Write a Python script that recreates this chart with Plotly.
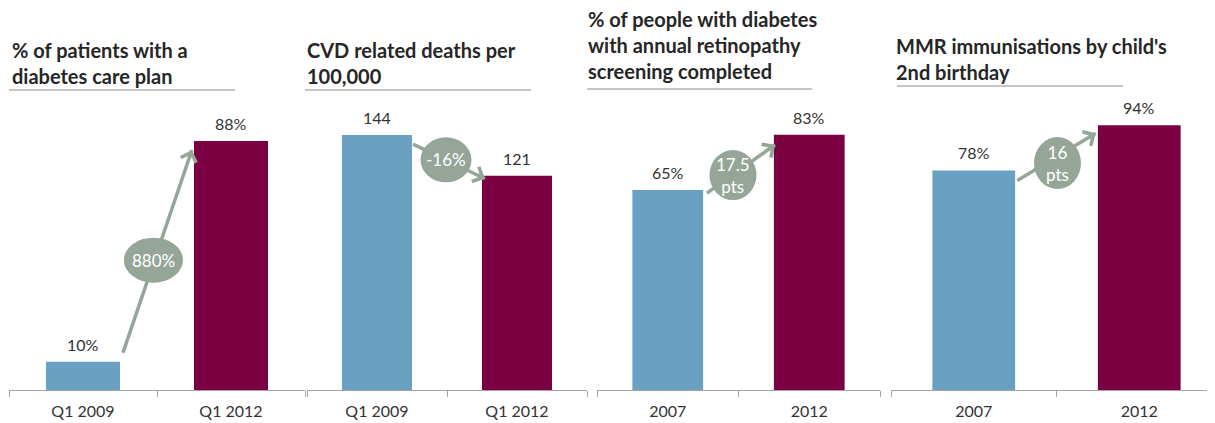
import plotly.graph_objects as go
import math

# ---- data ----
titles = [
    "% of patients with a<br>diabetes care plan",
    "CVD related deaths per<br>100,000",
    "% of people with diabetes<br>with annual retinopathy<br>screening completed",
    "MMR immunisations by child's<br>2nd birthday",
]
categories = [
    ["Q1 2009", "Q1 2012"],
    ["Q1 2009", "Q1 2012"],
    ["2007", "2012"],
    ["2007", "2012"],
]
values = [
    [10, 88],
    [144, 121],
    [65, 83],
    [78, 94],
]
value_labels = [
    ["10%", "88%"],
    ["144", "121"],
    ["65%", "83%"],
    ["78%", "94%"],
]
change_labels = ["880%", "-16%", "17.5<br>pts", "16<br>pts"]

# ---- layout / style (positions in reference-window pixels) ----
OFF = 8                      # page body margin
FIG_W, FIG_H = 1222 - OFF, 423 - OFF
AXIS_Y, TOP_Y = 390, 100     # plot area bottom/top in window pixels
M_T = TOP_Y - OFF
M_B = FIG_H - (AXIS_Y - OFF)
PLOT_H = AXIS_Y - TOP_Y
domains_px = [(9, 305), (307, 587), (597, 880), (891, 1222)]
y_max = [102.5, 163.8, 94.3, 103.0]
title_pos = [(10, 36), (305, 36), (586, 5), (894, 32)]
underline = [((9, 235), 90), ((305, 531), 90), ((587, 812), 89), ((897, 1123), 86)]

arrow_start_x = [0.27, 0.257, 0.277, 0.263]
arrow_start_dy = [9, -9, -3, -10]      # px relative to first bar top
arrow_end_x = [0.736, 0.771, 0.758, 0.737]
arrow_end_dy = [-9, -3, -10, -8]       # px relative to second bar top
ell_center = [(0.476, 45.9), (0.493, 130), (0.461, 69.9), (0.506, 80.6)]
ell_size = [(59, 45), (51, 45), (47, 50), (47, 52)]

BLUE = "#6AA0C1"
MAROON = "#7B0042"
GREEN = "#95A699"
TEXT = "#333333"
AXIS = "#A6A6A6"
FONT = "Lato"


def px2paper(x):
    return (x - OFF) / FIG_W


def py2paper(y):
    return (AXIS_Y - y) / PLOT_H


fig = go.Figure()
shapes = []
annotations = []

for i in range(4):
    ax_sfx = "" if i == 0 else str(i + 1)
    xref, yref = "x" + ax_sfx, "y" + ax_sfx
    x0p, x1p = domains_px[i]
    x1p = min(x1p, OFF + FIG_W)
    catw = (x1p - x0p) / 2.0
    scale = PLOT_H / y_max[i]

    def to_px(x, y):
        return (x0p + (x + 0.5) * catw, AXIS_Y - y * scale)

    fig.add_trace(go.Bar(
        x=categories[i], y=values[i],
        marker=dict(color=[BLUE, MAROON], line=dict(width=0)),
        width=0.5, xaxis=xref, yaxis=yref, showlegend=False, hoverinfo="skip",
    ))

    for j in range(2):
        annotations.append(dict(
            x=j, y=values[i][j], xref=xref, yref=yref, text=value_labels[i][j],
            showarrow=False, yanchor="bottom", yshift=6,
            font=dict(family=FONT, size=16, color=TEXT),
        ))

    # arrow
    sx, sy = arrow_start_x[i], values[i][0] + arrow_start_dy[i] / scale
    ex, ey = arrow_end_x[i], values[i][1] + arrow_end_dy[i] / scale
    shapes.append(dict(type="line", xref=xref, yref=yref, x0=sx, y0=sy, x1=ex, y1=ey,
                       line=dict(color=GREEN, width=3.5), layer="above"))
    spx, spy = to_px(sx, sy)
    epx, epy = to_px(ex, ey)
    L = math.hypot(epx - spx, epy - spy)
    ux, uy = (epx - spx) / L, (epy - spy) / L
    annotations.append(dict(
        x=ex, y=ey, xref=xref, yref=yref, text="", showarrow=True,
        ax=-ux * 10, ay=-uy * 10, arrowhead=4, arrowsize=0.9, arrowwidth=3.5,
        arrowcolor=GREEN,
    ))

    # ellipse with change label
    cx, cy = ell_center[i]
    ew, eh = ell_size[i]
    shapes.append(dict(type="circle", xref=xref, yref=yref,
                       xsizemode="pixel", ysizemode="pixel", xanchor=cx, yanchor=cy,
                       x0=-ew / 2, x1=ew / 2, y0=-eh / 2, y1=eh / 2,
                       fillcolor=GREEN, line=dict(width=0), layer="above"))
    annotations.append(dict(
        x=cx, y=cy, xref=xref, yref=yref, text=change_labels[i], showarrow=False,
        font=dict(family=FONT, size=17, color="white"),
    ))

    # title
    tx, ty = title_pos[i]
    annotations.append(dict(
        x=px2paper(tx), y=py2paper(ty), xref="paper", yref="paper",
        xanchor="left", yanchor="top",
        text="<b>" + titles[i] + "</b>", align="left", showarrow=False,
        font=dict(family=FONT, size=20, color="#262626"),
    ))
    (ux0, ux1), uy_ = underline[i]
    shapes.append(dict(type="line", xref="paper", yref="paper",
                       x0=px2paper(ux0), x1=px2paper(ux1),
                       y0=py2paper(uy_), y1=py2paper(uy_),
                       line=dict(color="#8C8C8C", width=1.2)))

    fig.layout["xaxis" + ax_sfx] = dict(
        domain=[px2paper(x0p), min(1.0, px2paper(x1p))], anchor=yref, type="category",
        range=[-0.5, 1.5],
        showline=True, linecolor=AXIS, linewidth=1, ticks="outside", tickson="boundaries",
        ticklen=6, tickcolor=AXIS, showgrid=False, zeroline=False, ticklabelstandoff=7,
        tickfont=dict(family=FONT, size=16, color=TEXT), fixedrange=True,
    )
    fig.layout["yaxis" + ax_sfx] = dict(
        domain=[0, 1], anchor=xref, range=[0, y_max[i]], visible=False, fixedrange=True,
    )

fig.update_layout(
    width=FIG_W, height=FIG_H, margin=dict(l=0, r=0, t=M_T, b=M_B, pad=0),
    paper_bgcolor="white", plot_bgcolor="white",
    shapes=shapes, annotations=annotations, bargap=0.5,
    font=dict(family=FONT, color=TEXT),
)

fig.write_html("out.html", config={"displayModeBar": False})
